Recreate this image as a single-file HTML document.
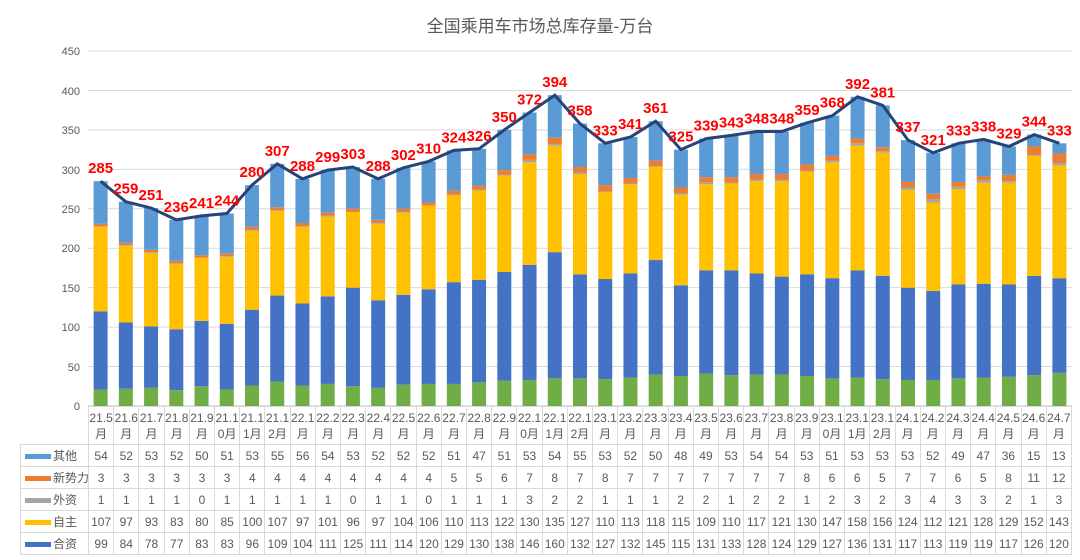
<!DOCTYPE html>
<html><head><meta charset="utf-8">
<style>
body{margin:0;background:#fff;width:1080px;height:560px;overflow:hidden;position:relative;font-family:"Liberation Sans","Noto Sans CJK SC",sans-serif;}
#title{position:absolute;top:12px;left:0;width:1080px;text-align:center;font-size:17px;color:#595959;}
svg{position:absolute;left:0;top:0;}
table{position:absolute;left:20px;top:406px;border-collapse:collapse;table-layout:fixed;width:1052px;font-size:12px;color:#595959;}
td{border:1px solid #d9d9d9;text-align:center;padding:0;height:21px;white-space:nowrap;overflow:hidden;}
tr.h td{height:37px;line-height:16px;font-size:12px;}
tr.h td:first-child{border:none;}
td.l{text-align:left;padding-left:4px;}
.k{display:inline-block;width:26px;height:5px;vertical-align:middle;margin-right:2px;}
</style></head><body>
<div id="title">全国乘用车市场总库存量-万台</div>
<svg id="s" width="1080" height="560">
<g font-size="11" fill="#595959" text-anchor="end" font-family="Liberation Sans, sans-serif">
<text x="80" y="410">0</text><text x="80" y="371">50</text><text x="80" y="331">100</text><text x="80" y="292">150</text><text x="80" y="252">200</text><text x="80" y="213">250</text><text x="80" y="174">300</text><text x="80" y="134">350</text><text x="80" y="95">400</text><text x="80" y="55">450</text>
</g>
<g id="grid"></g><g id="bars"></g><g id="line"></g>
<g id="lab" font-size="15" font-weight="bold" fill="#ff0000" text-anchor="middle" font-family="Liberation Sans, sans-serif">
<text>285</text><text>259</text><text>251</text><text>236</text><text>241</text><text>244</text><text>280</text><text>307</text><text>288</text><text>299</text><text>303</text><text>288</text><text>302</text><text>310</text><text>324</text><text>326</text><text>350</text><text>372</text><text>394</text><text>358</text><text>333</text><text>341</text><text>361</text><text>325</text><text>339</text><text>343</text><text>348</text><text>348</text><text>359</text><text>368</text><text>392</text><text>381</text><text>337</text><text>321</text><text>333</text><text>338</text><text>329</text><text>344</text><text>333</text>
</g>
</svg>
<table>
<colgroup><col style="width:68px"></colgroup>
<tr class="h"><td></td><td>21.5<br>月</td><td>21.6<br>月</td><td>21.7<br>月</td><td>21.8<br>月</td><td>21.9<br>月</td><td>21.1<br>0月</td><td>21.1<br>1月</td><td>21.1<br>2月</td><td>22.1<br>月</td><td>22.2<br>月</td><td>22.3<br>月</td><td>22.4<br>月</td><td>22.5<br>月</td><td>22.6<br>月</td><td>22.7<br>月</td><td>22.8<br>月</td><td>22.9<br>月</td><td>22.1<br>0月</td><td>22.1<br>1月</td><td>22.1<br>2月</td><td>23.1<br>月</td><td>23.2<br>月</td><td>23.3<br>月</td><td>23.4<br>月</td><td>23.5<br>月</td><td>23.6<br>月</td><td>23.7<br>月</td><td>23.8<br>月</td><td>23.9<br>月</td><td>23.1<br>0月</td><td>23.1<br>1月</td><td>23.1<br>2月</td><td>24.1<br>月</td><td>24.2<br>月</td><td>24.3<br>月</td><td>24.4<br>月</td><td>24.5<br>月</td><td>24.6<br>月</td><td>24.7<br>月</td></tr>
<tr><td class="l"><span class="k" style="background:#5B9BD5"></span>其他</td><td>54</td><td>52</td><td>53</td><td>52</td><td>50</td><td>51</td><td>53</td><td>55</td><td>56</td><td>54</td><td>53</td><td>52</td><td>52</td><td>52</td><td>51</td><td>47</td><td>51</td><td>53</td><td>54</td><td>55</td><td>53</td><td>52</td><td>50</td><td>48</td><td>49</td><td>53</td><td>54</td><td>54</td><td>53</td><td>51</td><td>53</td><td>53</td><td>53</td><td>52</td><td>49</td><td>47</td><td>36</td><td>15</td><td>13</td></tr>
<tr><td class="l"><span class="k" style="background:#ED7D31"></span>新势力</td><td>3</td><td>3</td><td>3</td><td>3</td><td>3</td><td>3</td><td>4</td><td>4</td><td>4</td><td>4</td><td>4</td><td>4</td><td>4</td><td>4</td><td>5</td><td>5</td><td>6</td><td>7</td><td>8</td><td>7</td><td>8</td><td>7</td><td>7</td><td>7</td><td>7</td><td>7</td><td>7</td><td>7</td><td>8</td><td>6</td><td>6</td><td>5</td><td>7</td><td>7</td><td>6</td><td>5</td><td>8</td><td>11</td><td>12</td></tr>
<tr><td class="l"><span class="k" style="background:#A5A5A5"></span>外资</td><td>1</td><td>1</td><td>1</td><td>1</td><td>0</td><td>1</td><td>1</td><td>1</td><td>1</td><td>1</td><td>0</td><td>1</td><td>1</td><td>0</td><td>1</td><td>1</td><td>1</td><td>3</td><td>2</td><td>2</td><td>1</td><td>1</td><td>1</td><td>2</td><td>2</td><td>1</td><td>2</td><td>2</td><td>1</td><td>2</td><td>3</td><td>2</td><td>3</td><td>4</td><td>3</td><td>3</td><td>2</td><td>1</td><td>3</td></tr>
<tr><td class="l"><span class="k" style="background:#FFC000"></span>自主</td><td>107</td><td>97</td><td>93</td><td>83</td><td>80</td><td>85</td><td>100</td><td>107</td><td>97</td><td>101</td><td>96</td><td>97</td><td>104</td><td>106</td><td>110</td><td>113</td><td>122</td><td>130</td><td>135</td><td>127</td><td>110</td><td>113</td><td>118</td><td>115</td><td>109</td><td>110</td><td>117</td><td>121</td><td>130</td><td>147</td><td>158</td><td>156</td><td>124</td><td>112</td><td>121</td><td>128</td><td>129</td><td>152</td><td>143</td></tr>
<tr><td class="l"><span class="k" style="background:#4472C4"></span>合资</td><td>99</td><td>84</td><td>78</td><td>77</td><td>83</td><td>83</td><td>96</td><td>109</td><td>104</td><td>111</td><td>125</td><td>111</td><td>114</td><td>120</td><td>129</td><td>130</td><td>138</td><td>146</td><td>160</td><td>132</td><td>127</td><td>132</td><td>145</td><td>115</td><td>131</td><td>133</td><td>128</td><td>124</td><td>129</td><td>127</td><td>136</td><td>131</td><td>117</td><td>113</td><td>119</td><td>119</td><td>117</td><td>126</td><td>120</td></tr>
</table>
<script>
var T=[285,259,251,236,241,244,280,307,288,299,303,288,302,310,324,326,350,372,394,358,333,341,361,325,339,343,348,348,359,368,392,381,337,321,333,338,329,344,333];
var O=[54,52,53,52,50,51,53,55,56,54,53,52,52,52,51,47,51,53,54,55,53,52,50,48,49,53,54,54,53,51,53,53,53,52,49,47,36,15,13];
var N=[3,3,3,3,3,3,4,4,4,4,4,4,4,4,5,5,6,7,8,7,8,7,7,7,7,7,7,7,8,6,6,5,7,7,6,5,8,11,12];
var W=[1,1,1,1,0,1,1,1,1,1,0,1,1,0,1,1,1,3,2,2,1,1,1,2,2,1,2,2,1,2,3,2,3,4,3,3,2,1,3];
var Z=[107,97,93,83,80,85,100,107,97,101,96,97,104,106,110,113,122,130,135,127,110,113,118,115,109,110,117,121,130,147,158,156,124,112,121,128,129,152,143];
var H=[99,84,78,77,83,83,96,109,104,111,125,111,114,120,129,130,138,146,160,132,127,132,145,115,131,133,128,124,129,127,136,131,117,113,119,119,117,126,120];
var ns="http://www.w3.org/2000/svg",y0=406,s=355/450,x0=88,cw=(1072-88)/39,bw=14;
function el(p,t,a){var e=document.createElementNS(ns,t);for(var k in a)e.setAttribute(k,a[k]);p.appendChild(e);return e;}
var g=document.getElementById('grid');
for(var v=50;v<=450;v+=50)el(g,'line',{x1:88,x2:1072,y1:y0-v*s,y2:y0-v*s,stroke:'#d9d9d9','stroke-width':1});
el(g,'line',{x1:88,x2:1072,y1:y0,y2:y0,stroke:'#bfbfbf','stroke-width':1});
var b=document.getElementById('bars'),pts=[],labs=document.getElementById('lab').children;
for(var i=0;i<39;i++){
 var cx=x0+cw*(i+.5),gr=T[i]-(O[i]+N[i]+W[i]+Z[i]+H[i]);
 var seg=[[gr,'#70AD47'],[H[i],'#4472C4'],[Z[i],'#FFC000'],[W[i],'#A5A5A5'],[N[i],'#ED7D31'],[O[i],'#5B9BD5']];
 var acc=0;
 seg.forEach(function(q){if(q[0]<=0)return;el(b,'rect',{x:cx-bw/2,y:y0-(acc+q[0])*s,width:bw,height:q[0]*s,fill:q[1]});acc+=q[0];});
 pts.push(cx.toFixed(1)+','+(y0-T[i]*s).toFixed(1));
 labs[i].setAttribute('x',cx);labs[i].setAttribute('y',y0-T[i]*s-8);
}
el(document.getElementById('line'),'polyline',{points:pts.join(' '),fill:'none',stroke:'#264478','stroke-width':3});
</script>
</body></html>
